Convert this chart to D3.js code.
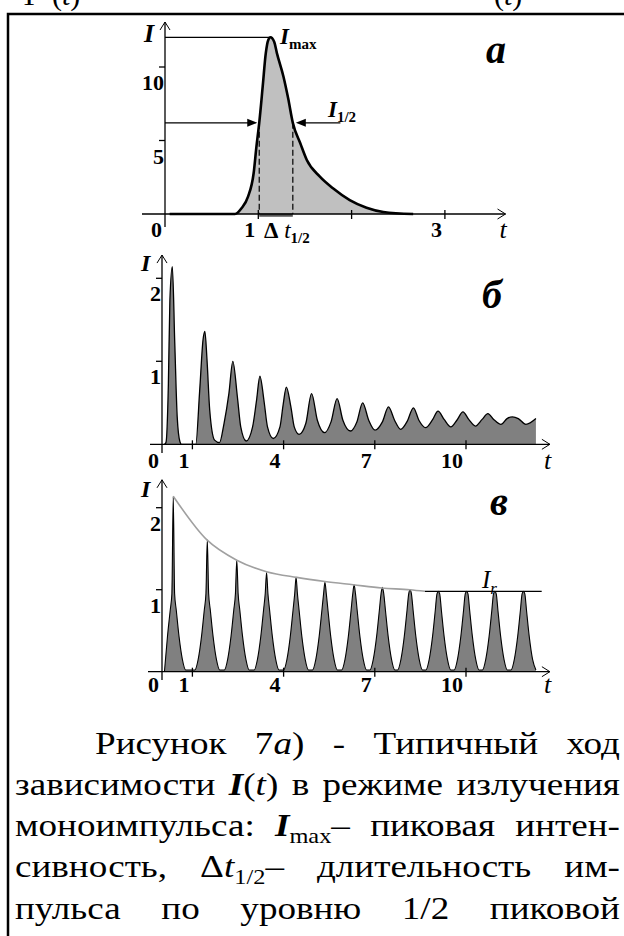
<!DOCTYPE html>
<html>
<head>
<meta charset="utf-8">
<script src="https://d3js.org/d3.v7.min.js"></script>
<style>
  body { margin: 0; background: #fff; }
  svg { display: block; }
</style>
</head>
<body>
<svg id="fig" width="624" height="936"></svg>
<script>
var aT = [0.05, 0.75, 0.82, 0.89, 0.95, 0.98, 1.01, 1.047, 1.08, 1.107, 1.13, 1.17, 1.20, 1.27, 1.32, 1.37, 1.45, 1.52, 1.66, 1.80, 1.98, 2.16, 2.34, 2.66];
var aI = [0, 0, 0.39, 1.18, 2.77, 4.58, 6.2, 8.66, 10.93, 11.84, 12.02, 11.72, 10.93, 9.34, 7.87, 6.2, 4.81, 3.67, 2.54, 1.75, 0.95, 0.43, 0.14, 0];
var aTickT = [0, 1, 2, 3];
var aTickTLabels = ["0", "1", "", "3"];
var aTickI = [5, 10];
var aTickILabels = ["5", "10"];
var aImax = 12.02;
var aHalf = 6.2;
var aHalfT = [1.01, 1.37];

// ---------- panel б : damped relaxation pulses
var bT = [0.08, 0.13, 0.21, 0.26, 0.34, 0.42, 0.50, 0.59, 0.64,
  1.11, 1.24, 1.35, 1.41, 1.48, 1.57, 1.73, 1.89,
  2.04, 2.20, 2.33, 2.48, 2.59, 2.77,
  2.98, 3.11, 3.22, 3.36, 3.47, 3.66,
  3.88, 3.99, 4.09, 4.24, 4.35, 4.51,
  4.73, 4.92, 5.11, 5.35,
  5.56, 5.76, 5.95, 6.20,
  6.41, 6.60, 6.80, 7.01,
  7.25, 7.45, 7.65, 7.85,
  8.07, 8.27, 8.45, 8.67,
  8.89, 9.08, 9.28, 9.50,
  9.70, 9.90, 10.09, 10.31,
  10.53, 10.72, 10.91, 11.15,
  11.35, 11.53, 11.72, 11.97,
  12.30];
var bI = [0, 0.02, 0.73, 1.74, 2.14, 1.22, 0.33, 0.03, 0,
  0, 0.65, 1.26, 1.36, 1.02, 0.41, 0.05, 0.02,
  0.25, 0.61, 1.00, 0.57, 0.21, 0.04,
  0.21, 0.53, 0.82, 0.51, 0.21, 0.07,
  0.21, 0.49, 0.69, 0.45, 0.21, 0.12,
  0.25, 0.61, 0.29, 0.14,
  0.27, 0.55, 0.29, 0.16,
  0.27, 0.50, 0.29, 0.17,
  0.27, 0.45, 0.29, 0.18,
  0.28, 0.44, 0.29, 0.20,
  0.29, 0.40, 0.30, 0.21,
  0.29, 0.39, 0.30, 0.22,
  0.30, 0.37, 0.30, 0.24,
  0.31, 0.33, 0.31, 0.24,
  0.31];
var bTickT = [0, 1, 4, 7, 10];
var bTickI = [1, 2];

// ---------- panel в : regular pulses under a decaying envelope
var vPeakT = [0.37, 1.49, 2.46, 3.44, 4.41, 5.36, 6.32, 7.25, 8.16, 9.09, 10.02, 10.95, 11.89];
var vPeakI = [2.14, 1.61, 1.36, 1.21, 1.15, 1.09, 1.06, 1.03, 1.00, 0.98, 0.98, 0.98, 0.98];
var vSkirtDt = [0.41, 0.30, 0.19, 0.10, 0.045];
var vSkirtI = [0.02, 0.15, 0.43, 0.75, 0.95];
var vEnvT = [0.37, 1.47, 2.46, 3.44, 4.43, 5.36, 6.29, 7.23, 8.16, 8.65];
var vEnvI = [2.14, 1.61, 1.36, 1.22, 1.15, 1.10, 1.06, 1.02, 1.00, 0.98];
var vIr = 0.98;
var vIrT = [8.65, 12.49];
var vTickT = [0, 1, 4, 7, 10];
var vTickI = [1, 2];

// ---------- caption (word lists, [text, style])
var captionLines = [
  [[["Рисунок", "r"]], [["7", "r"], ["а", "i"], [")", "r"]], [["-", "r"]], [["Типичный", "r"]], [["ход", "r"]]],
  [[["зависимости", "r"]], [["I", "bi"], ["(", "r"], ["t", "i"], [")", "r"]], [["в", "r"]], [["режиме", "r"]], [["излучения", "r"]]],
  [[["моноимпульса:", "r"]], [["I", "bi"], ["max", "sub"], ["–", "r"]], [["пиковая", "r"]], [["интен-", "r"]]],
  [[["сивность,", "r"]], [["Δ", "r"], ["t", "i"], ["1/2", "sub"], ["–", "r"]], [["длительность", "r"]], [["им-", "r"]]],
  [[["пульса", "r"]], [["по", "r"]], [["уровню", "r"]], [["1/2", "r"]], [["пиковой", "r"]]]
];

var serif = "'Liberation Serif', 'Times New Roman', serif";
var svg = d3.select("#fig");

function styleSeg(ts, st) {
  if (st.indexOf("i") >= 0) ts.attr("font-style", "italic");
  if (st.indexOf("b") >= 0) ts.attr("font-weight", "bold");
}

function richText(g, x, y, segs, size) {
  var t = g.append("text").attr("x", x).attr("y", y)
    .attr("font-family", serif).attr("font-size", size).attr("fill", "#000");
  var shift = 0;
  segs.forEach(function(s) {
    var ts = t.append("tspan").text(s[0]);
    if (s[1].indexOf("sub") >= 0) {
      var d = Math.round(size * 0.22);
      ts.attr("font-size", Math.round(size * 0.66)).attr("dy", d - shift);
      styleSeg(ts, s[1].replace("sub", ""));
      shift = d;
    } else {
      if (shift) { ts.attr("dy", -shift); shift = 0; }
      styleSeg(ts, s[1]);
    }
  });
  return t;
}

// ---------- frame and the cut-off line above it
svg.append("path").attr("d", "M8,936V14H624")
  .attr("fill", "none").attr("stroke", "#000").attr("stroke-width", 2.5);
richText(svg, 20, 5, [["Т", "r"]], 30);
richText(svg, 52, 5, [["(", "r"], ["t", "i"], [")", "r"]], 30);
richText(svg, 494, 5, [["(", "r"], ["t", "i"], [")", "r"]], 30);

// ---------- generic panel
function panel(cfg) {
  var g = svg.append("g");
  var x = d3.scaleLinear().domain([0, cfg.tMax]).range([cfg.x0, cfg.x0 + cfg.kx * cfg.tMax]);
  var y = d3.scaleLinear().domain([0, cfg.iMax]).range([cfg.y0, cfg.y0 - cfg.ky * cfg.iMax]);
  return { g: g, x: x, y: y, cfg: cfg };
}

function drawAxes(p, tTicks, tLabels, iTicks, iLabels) {
  var g = p.g, x = p.x, y = p.y, c = p.cfg;
  var xa = g.append("g").attr("stroke", "#000").attr("fill", "none");
  var xEnd = x(c.tMax), yTop = y(c.iMax);
  xa.append("line").attr("x1", c.xLeft).attr("x2", xEnd).attr("y1", y(0)).attr("y2", y(0)).attr("stroke-width", 1.3);
  xa.append("path").attr("d", "M" + (xEnd - 8) + "," + (y(0) - 5) + "L" + xEnd + "," + y(0) + "L" + (xEnd - 8) + "," + (y(0) + 5)).attr("stroke-width", 1);
  xa.append("line").attr("x1", x(0)).attr("x2", x(0)).attr("y1", c.yBottom).attr("y2", yTop).attr("stroke-width", 1.3);
  xa.append("path").attr("d", "M" + (x(0) - 5) + "," + (yTop + 8) + "L" + x(0) + "," + yTop + "L" + (x(0) + 5) + "," + (yTop + 8)).attr("stroke-width", 1);

  tTicks.forEach(function(v, i) {
    if (v > 0) xa.append("line").attr("x1", x(v)).attr("x2", x(v)).attr("y1", y(0) - 4).attr("y2", y(0) + 5).attr("stroke-width", 1.3);
    if (tLabels[i]) g.append("text").attr("x", x(v) - 3).attr("y", y(0) + c.labelDy)
      .attr("text-anchor", "end").attr("font-family", serif).attr("font-weight", "bold")
      .attr("font-size", 22).text(tLabels[i]);
  });
  iTicks.forEach(function(v, i) {
    xa.append("line").attr("x1", x(0) - 6).attr("x2", x(0)).attr("y1", y(v)).attr("y2", y(v)).attr("stroke-width", 1.3);
    g.append("text").attr("x", x(0) - 1).attr("y", y(v) + 23)
      .attr("text-anchor", "end").attr("font-family", serif).attr("font-weight", "bold")
      .attr("font-size", 22).text(iLabels[i]);
  });
  richText(g, x(0) - 21, yTop + c.iNameDy, [["I", "bi"]], c.iNameSize);
  richText(g, xEnd - 6, y(0) + c.labelDy + 1, [["t", "i"]], 26);
  richText(g, c.tagX, c.tagY, [[c.tag, "bi"]], 40);
}

function lineGen(p) {
  return d3.line().x(function(d) { return p.x(d[0]); }).y(function(d) { return p.y(d[1]); }).curve(d3.curveMonotoneX);
}
function areaGen(p) {
  return d3.area().x(function(d) { return p.x(d[0]); }).y0(p.y(0)).y1(function(d) { return p.y(d[1]); }).curve(d3.curveMonotoneX);
}

// ---------- panel а
var pa = panel({ x0: 165, kx: 93.3, tMax: 3.65, y0: 214, ky: 14.7, iMax: 13.06,
  xLeft: 142, yBottom: 227, labelDy: 23, iNameDy: 20, iNameSize: 26, tag: "а", tagX: 486, tagY: 63 });
var aPts = d3.zip(aT, aI);
pa.g.append("path").datum(aPts).attr("fill", "#c0c0c0").attr("d", areaGen(pa));
pa.g.append("line").attr("x1", pa.x(aHalfT[0])).attr("x2", pa.x(aHalfT[1]))
  .attr("y1", pa.y(0) + 1).attr("y2", pa.y(0) + 1).attr("stroke", "#555").attr("stroke-width", 3.5);
drawAxes(pa, aTickT, aTickTLabels, aTickI, aTickILabels);
pa.g.append("path").datum(aPts)
  .attr("fill", "none").attr("stroke", "#000").attr("stroke-width", 2.6).attr("stroke-linejoin", "round")
  .attr("d", lineGen(pa));
pa.g.append("line").attr("x1", pa.x(0)).attr("x2", pa.x(1.12)).attr("y1", pa.y(aImax)).attr("y2", pa.y(aImax))
  .attr("stroke", "#000").attr("stroke-width", 1.2);
function arrowH(g, x1, x2, yy) {
  var dir = x2 > x1 ? 1 : -1;
  g.append("line").attr("x1", x1).attr("x2", x2 - dir * 8).attr("y1", yy).attr("y2", yy).attr("stroke", "#000").attr("stroke-width", 1.2);
  g.append("path").attr("d", "M" + x2 + "," + yy + "L" + (x2 - dir * 10) + "," + (yy - 4) + "L" + (x2 - dir * 10) + "," + (yy + 4) + "Z").attr("fill", "#000");
}
arrowH(pa.g, pa.x(0), pa.x(aHalfT[0]) - 2, pa.y(aHalf));
arrowH(pa.g, pa.x(1.88), pa.x(aHalfT[1]) + 3, pa.y(aHalf));
aHalfT.forEach(function(t) {
  pa.g.append("line").attr("x1", pa.x(t)).attr("x2", pa.x(t)).attr("y1", pa.y(aHalf)).attr("y2", pa.y(0))
    .attr("stroke", "#000").attr("stroke-width", 1.2).attr("stroke-dasharray", "6,3");
});
richText(pa.g, 280, 44, [["I", "bi"], ["max", "bsub"]], 23);
richText(pa.g, 328, 117, [["I", "bi"], ["1/2", "bsub"]], 23);
richText(pa.g, 264, 238, [["Δ", "b"], [" ", "r"], ["t", "i"], ["1/2", "bsub"]], 23);

// ---------- panel б
var pb = panel({ x0: 162, kx: 30.4, tMax: 12.76, y0: 444.3, ky: 83, iMax: 2.28,
  xLeft: 150, yBottom: 453, labelDy: 24, iNameDy: 16, iNameSize: 24, tag: "б", tagX: 482, tagY: 308 });
var bPts = d3.zip(bT, bI);
pb.g.append("path").datum(bPts).attr("fill", "#808080").attr("d", areaGen(pb));
pb.g.append("path").datum(bPts).attr("fill", "none").attr("stroke", "#000").attr("stroke-width", 1.3).attr("d", lineGen(pb));
drawAxes(pb, bTickT, bTickT.map(String), bTickI, bTickI.map(String));

// ---------- panel в
var pv = panel({ x0: 162, kx: 30.4, tMax: 12.76, y0: 671.7, ky: 82, iMax: 2.34,
  xLeft: 148, yBottom: 680, labelDy: 20, iNameDy: 17, iNameSize: 24, tag: "в", tagX: 490, tagY: 515 });
var vPts = [[0.08, 0]];
vPeakT.forEach(function(tp, k) {
  var ip = vPeakI[k];
  for (var j = 0; j < vSkirtDt.length; j++) if (vSkirtI[j] < ip * 0.97) vPts.push([tp - vSkirtDt[j], vSkirtI[j]]);
  vPts.push([tp, ip]);
  for (var j = vSkirtDt.length - 1; j >= 0; j--) if (vSkirtI[j] < ip * 0.97) vPts.push([tp + vSkirtDt[j], vSkirtI[j]]);
});
vPts = vPts.filter(function(d) { return d[0] >= 0.08; });
pv.g.append("path").datum(vPts).attr("fill", "#808080").attr("d", areaGen(pv));
pv.g.append("path").datum(vPts).attr("fill", "none").attr("stroke", "#000").attr("stroke-width", 1.1).attr("d", lineGen(pv));
drawAxes(pv, vTickT, vTickT.map(String), vTickI, vTickI.map(String));
pv.g.append("path").datum(d3.zip(vEnvT, vEnvI))
  .attr("fill", "none").attr("stroke", "#a0a0a0").attr("stroke-width", 1.6).attr("d", lineGen(pv));
pv.g.append("line").attr("x1", pv.x(vIrT[0])).attr("x2", pv.x(vIrT[1])).attr("y1", pv.y(vIr)).attr("y2", pv.y(vIr))
  .attr("stroke", "#000").attr("stroke-width", 1.4);
richText(pv.g, 482, 588, [["I", "i"], ["r", "isub"]], 25);

// ---------- caption, justified (the scan is a little wider than Times)
var capG = svg.append("g");
var capBase = [754, 795, 836, 877, 919];
var capStretch = 1.16;
captionLines.forEach(function(words, li) {
  var x1 = li == 0 ? 95 : 15, x2 = 620;
  var nodes = words.map(function(w) { return richText(capG, 0, 0, w, 32); });
  var widths = nodes.map(function(n) { return n.node().getComputedTextLength() * capStretch; });
  var gap = (x2 - x1 - d3.sum(widths)) / (words.length - 1);
  var cx = x1;
  nodes.forEach(function(n, i) {
    n.attr("transform", "translate(" + cx + "," + capBase[li] + ") scale(" + capStretch + ",1)");
    cx += widths[i] + gap;
  });
});
</script>
</body>
</html>
